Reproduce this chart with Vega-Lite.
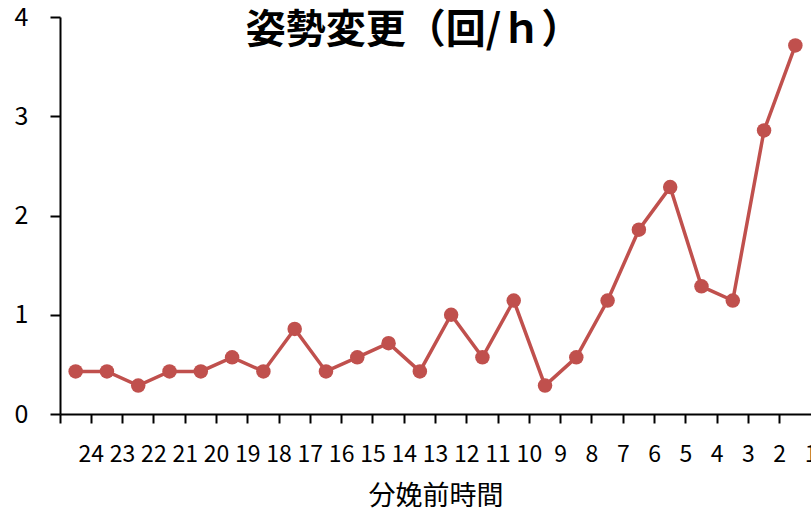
{
  "$schema": "https://vega.github.io/schema/vega-lite/v6.json",
  "width": 751,
  "height": 397,
  "autosize": {"type": "none"},
  "padding": {"top": 17, "left": 60, "right": 0, "bottom": 98},
  "background": "white",
  "title": {
    "text": "姿勢変更（回/ｈ）",
    "font": "Noto Sans CJK JP",
    "fontSize": 40,
    "fontWeight": "bold",
    "color": "black",
    "anchor": "middle",
    "baseline": "top",
    "offset": -46,
    "dx": -22
  },
  "data": {
    "values": [
      {"h": 24, "v": 0.429}, {"h": 23, "v": 0.429}, {"h": 22, "v": 0.286},
      {"h": 21, "v": 0.429}, {"h": 20, "v": 0.429}, {"h": 19, "v": 0.571},
      {"h": 18, "v": 0.429}, {"h": 17, "v": 0.857}, {"h": 16, "v": 0.429},
      {"h": 15, "v": 0.571}, {"h": 14, "v": 0.714}, {"h": 13, "v": 0.429},
      {"h": 12, "v": 1.0}, {"h": 11, "v": 0.571}, {"h": 10, "v": 1.143},
      {"h": 9, "v": 0.286}, {"h": 8, "v": 0.571}, {"h": 7, "v": 1.143},
      {"h": 6, "v": 1.857}, {"h": 5, "v": 2.286}, {"h": 4, "v": 1.286},
      {"h": 3, "v": 1.143}, {"h": 2, "v": 2.857}, {"h": 1, "v": 3.714}
    ]
  },
  "encoding": {
    "x": {
      "field": "h",
      "type": "ordinal",
      "sort": "descending",
      "bandPosition": 0.5,
      "scale": {"type": "band", "paddingInner": 0, "paddingOuter": 0},
      "axis": {
        "title": "分娩前時間",
        "titleFont": "Noto Sans CJK JP",
        "titleFontSize": 27,
        "titleFontWeight": "normal",
        "titleColor": "black",
        "titlePadding": 17,
        "labelFont": "Noto Sans CJK JP",
        "labelFontSize": 23,
        "labelColor": "black",
        "labelAngle": 0,
        "labelOverlap": false,
        "labelPadding": 20,
        "labelOffset": 15.65,
        "bandPosition": 0,
        "domainColor": "black",
        "domainWidth": 2,
        "tickColor": "black",
        "tickWidth": 2,
        "tickSize": 9,
        "grid": false
      }
    },
    "y": {
      "field": "v",
      "type": "quantitative",
      "scale": {"domain": [0, 4], "nice": false},
      "axis": {
        "title": null,
        "values": [0, 1, 2, 3, 4],
        "labelFont": "Noto Sans CJK JP",
        "labelFontSize": 25,
        "labelColor": "black",
        "labelPadding": 22,
        "domainColor": "black",
        "domainWidth": 2,
        "tickColor": "black",
        "tickWidth": 2,
        "tickSize": 10,
        "grid": false
      }
    }
  },
  "layer": [
    {"mark": {"type": "line", "color": "#C0504D", "strokeWidth": 3.5}},
    {"mark": {"type": "point", "filled": true, "opacity": 1, "color": "#C0504D", "size": 210}}
  ],
  "config": {"view": {"stroke": null}}
}
